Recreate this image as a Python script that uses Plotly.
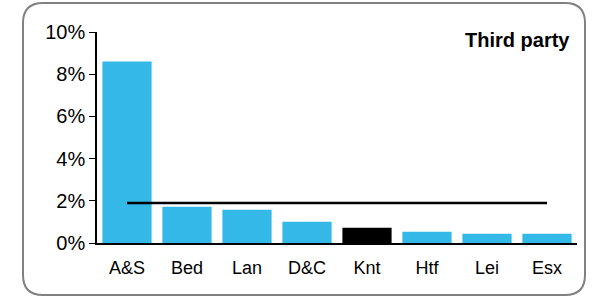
import plotly.graph_objects as go

categories = ["A&S", "Bed", "Lan", "D&C", "Knt", "Htf", "Lei", "Esx"]
values = [8.6, 1.72, 1.58, 1.01, 0.72, 0.53, 0.44, 0.44]
average = 1.9
highlight = "Knt"

W, H = 592, 297
L, R, T, B = 97, 15, 32, 54
pw, ph = W - L - R, H - T - B

def px(x):
    return (x - L) / pw

def py(y):
    return (H - B - y) / ph

colors = ["#000000" if c == highlight else "#33B8E8" for c in categories]

fig = go.Figure()
fig.add_trace(go.Bar(x=categories, y=values, marker=dict(color=colors, line=dict(width=0)), width=0.82))
fig.add_trace(go.Scatter(x=categories, y=[average] * len(categories), mode="lines",
                         line=dict(color="#000000", width=2.5)))

# rounded border
x0, x1, y0, y1, r = 23, 585, 3, 295, 20
path = (f"M {px(x0+r)},{py(y0)} L {px(x1-r)},{py(y0)} Q {px(x1)},{py(y0)} {px(x1)},{py(y0+r)} "
        f"L {px(x1)},{py(y1-r)} Q {px(x1)},{py(y1)} {px(x1-r)},{py(y1)} "
        f"L {px(x0+r)},{py(y1)} Q {px(x0)},{py(y1)} {px(x0)},{py(y1-r)} "
        f"L {px(x0)},{py(y0+r)} Q {px(x0)},{py(y0)} {px(x0+r)},{py(y0)} Z")
fig.add_shape(type="path", path=path, xref="paper", yref="paper",
              line=dict(color="#808080", width=2), layer="above")

fig.add_annotation(text="<b>Third party</b>", x=px(572), y=py(40), xref="paper", yref="paper",
                   xanchor="right", yanchor="middle", showarrow=False,
                   font=dict(size=20, color="#000000", family="Liberation Sans, Arial"))

fig.update_layout(
    width=W, height=H, margin=dict(l=L, r=R, t=T, b=B, autoexpand=False),
    paper_bgcolor="white", plot_bgcolor="white", showlegend=False,
    font=dict(family="Liberation Sans, Arial", size=18, color="#000000"),
    bargap=0.18,
)
fig.update_yaxes(range=[0, 10], dtick=2, ticksuffix="%", showgrid=False, zeroline=False,
                 showline=True, linecolor="#000000", linewidth=1.5, ticks="outside",
                 ticklen=6, tickcolor="#000000", tickfont=dict(size=20), automargin=False)
fig.update_xaxes(showgrid=False, showline=True, linecolor="#000000", linewidth=1.5,
                 ticks="", tickfont=dict(size=18), ticklabelstandoff=8, automargin=False)

fig.write_html("out.html", config={"displayModeBar": False},
               post_script="document.body.style.margin='0';document.body.style.padding='0';document.body.style.overflow='hidden';")
